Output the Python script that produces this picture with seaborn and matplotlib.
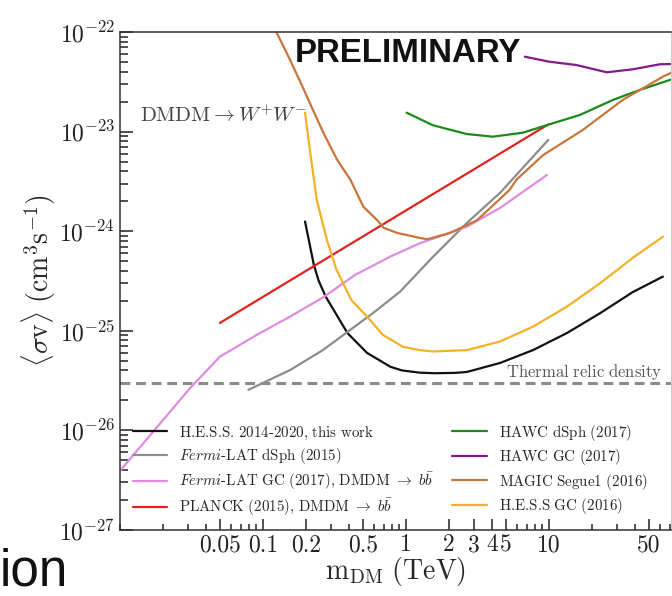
import matplotlib
matplotlib.use("Agg")
import matplotlib.pyplot as plt
import matplotlib.ticker as mticker
import matplotlib.transforms as mtransforms
import pandas as pd
import seaborn as sns

# ---- upper limits on <sigma v> (cm^3 s^-1) vs dark-matter mass (TeV) ----
hess_m = [0.197, 0.227, 0.245, 0.275, 0.39, 0.535, 0.78, 0.94, 1.25, 1.58, 2.2, 2.67, 4.55, 7.75, 13.4, 22.8, 38.7, 62.8]
hess_sv = [1.25e-24, 4.6e-25, 3.2e-25, 2.2e-25, 9.5e-26, 6.0e-26, 4.35e-26, 4.0e-26,
           3.8e-26, 3.75e-26, 3.78e-26, 3.86e-26, 4.75e-26, 6.4e-26, 9.5e-26, 1.5e-25, 2.45e-25, 3.5e-25]

fermi_dsph_m = [0.079, 0.155, 0.263, 0.59, 0.91, 1.55, 2.67, 4.55, 9.9]
fermi_dsph_sv = [2.55e-26, 4.04e-26, 6.41e-26, 1.51e-25, 2.47e-25, 5.55e-25, 1.21e-24, 2.42e-24, 8.24e-24]

fermi_gc_m = [0.0098, 0.031, 0.050, 0.0905, 0.155, 0.263, 0.44, 0.775, 1.25, 2.67, 4.55, 9.7]
fermi_gc_sv = [3.8e-27, 2.67e-26, 5.5e-26, 9.1e-26, 1.39e-25, 2.16e-25, 3.63e-25, 5.55e-25,
               7.56e-25, 1.11e-24, 1.71e-24, 3.67e-24]

planck_m = [0.05, 9.9]
planck_sv = [1.2e-25, 1.18e-23]

hawc_dsph_m = [1.01, 1.54, 2.66, 4.06, 6.58, 9.66, 16.5, 28.1, 43.3, 72.5]
hawc_dsph_sv = [1.55e-23, 1.16e-23, 9.46e-24, 8.89e-24, 9.75e-24, 1.16e-23, 1.47e-23, 2.08e-23, 2.62e-23, 3.35e-23]

hawc_gc_m = [6.8, 10.1, 15.6, 25.4, 38.6, 59.7, 72.5]
hawc_gc_sv = [5.65e-23, 5.03e-23, 4.66e-23, 3.94e-23, 4.22e-23, 4.74e-23, 4.77e-23]

magic_m = [0.122, 0.151, 0.184, 0.208, 0.265, 0.331, 0.41, 0.504, 0.63, 0.70, 0.87, 1.26, 1.41,
           2.04, 3.15, 5.3, 5.94, 9.1, 17.3, 32.9, 62.9, 80.0]
magic_sv = [1.05e-22, 5.65e-23, 3.08e-23, 2.08e-23, 9.7e-24, 5.19e-24, 3.27e-24, 1.76e-24, 1.29e-24,
            1.08e-24, 9.6e-25, 8.55e-25, 8.3e-25, 9.6e-25, 1.29e-24, 2.59e-24, 3.29e-24, 5.8e-24,
            1.04e-23, 2.08e-23, 3.56e-23, 4.2e-23]

hess_gc_m = [0.197, 0.213, 0.238, 0.28, 0.327, 0.415, 0.535, 0.69, 0.955, 1.25, 1.55, 2.67, 4.55, 7.75, 13.4, 22.8, 38.7, 62.8]
hess_gc_sv = [1.55e-23, 6.5e-24, 2.06e-24, 8.2e-25, 4.1e-25, 2.04e-25, 1.39e-25, 9.1e-26, 6.9e-26,
              6.4e-26, 6.2e-26, 6.4e-26, 7.8e-26, 1.1e-25, 1.75e-25, 3.0e-25, 5.4e-25, 8.8e-25]

thermal_sv = 3e-26

SP = r"$\ $"  # word space taken from mathtext (cmr10's own space glyph is too narrow)


def cm_text(s):
    return s.replace(" ", SP)


BB = r"DMDM$\ \rightarrow\ b\bar{b}$"
series_labels = [
    cm_text("H.E.S.S. 2014-2020, this work"),
    r"$\mathit{Fermi}$-LAT" + SP + "dSph" + SP + "(2015)",
    r"$\mathit{Fermi}$-LAT" + SP + "GC" + SP + "(2017)," + SP + BB,
    "PLANCK" + SP + "(2015)," + SP + BB,
    cm_text("HAWC dSph (2017)"),
    cm_text("HAWC GC (2017)"),
    cm_text("MAGIC Segue1 (2016)"),
    cm_text("H.E.S.S GC (2016)"),
]
series_colors = ["#111111", "#8c8c8c", "#de8ce0", "#e0231f",
                 "#1b8a1b", "#84198a", "#c9753a", "#f4b127"]
series_data = [(hess_m, hess_sv), (fermi_dsph_m, fermi_dsph_sv), (fermi_gc_m, fermi_gc_sv),
               (planck_m, planck_sv), (hawc_dsph_m, hawc_dsph_sv), (hawc_gc_m, hawc_gc_sv),
               (magic_m, magic_sv), (hess_gc_m, hess_gc_sv)]

x_major = [0.05, 0.1, 0.2, 0.5, 1, 2, 3, 4, 5, 10, 50]
x_major_labels = ["0.05", "0.1", "0.2", "0.5", "1", "2", "3", "4", "5", "10", "50"]

sns.set_style("white")
plt.rcParams.update({
    "font.family": "cmr10",
    "mathtext.fontset": "cm",
    "axes.unicode_minus": False,
    "axes.formatter.use_mathtext": True,
})

fig = plt.figure(figsize=(6.72, 5.96), dpi=100)
ax = fig.add_axes([120 / 672, 66 / 596, 550.5 / 672, 498 / 596])
ax.set_xscale("log")
ax.set_yscale("log")

for (m, sv), lab, col in zip(series_data, series_labels, series_colors):
    df = pd.DataFrame({"m": m, "sv": sv})
    sns.lineplot(data=df, x="m", y="sv", ax=ax, color=col, lw=1.6, label=lab,
                 sort=False, estimator=None)

ax.axhline(thermal_sv, color="#8a8a8a", lw=2.2, ls=(0, (3.2, 1.9)), zorder=1)

ax.set_xlim(0.01, 71)
ax.set_ylim(1e-27, 1e-22)

ax.xaxis.set_major_locator(mticker.FixedLocator(x_major))
ax.xaxis.set_major_formatter(mticker.FixedFormatter(x_major_labels))
ax.xaxis.set_minor_locator(mticker.LogLocator(base=10, subs=range(1, 10), numticks=20))
ax.xaxis.set_minor_formatter(mticker.NullFormatter())
ax.yaxis.set_major_locator(mticker.LogLocator(base=10, numticks=10))
ax.yaxis.set_minor_locator(mticker.LogLocator(base=10, subs=range(2, 10), numticks=20))
ax.yaxis.set_minor_formatter(mticker.NullFormatter())

ax.tick_params(axis="both", which="both", direction="in", bottom=True, left=True,
               top=False, right=False, colors="#222222", width=1.1)
ax.tick_params(axis="x", which="major", length=8, pad=3, labelsize=17)
ax.tick_params(axis="x", which="minor", length=4.5)
ax.tick_params(axis="y", which="major", length=9, pad=3.5, labelsize=17)
ax.tick_params(axis="y", which="minor", length=6)

for side in ["left", "bottom", "top"]:
    ax.spines[side].set_color("#333333")
    ax.spines[side].set_linewidth(1.1)
ax.spines["right"].set_color("#cccccc")

ax.set_xlabel(r"$\mathrm{m}_{\mathrm{DM}}\ (\mathrm{TeV})$", fontsize=20)
ax.set_ylabel(r"$\langle\sigma\mathrm{v}\rangle\ (\mathrm{cm}^3\mathrm{s}^{-1})$", fontsize=20)
ax.xaxis.set_label_coords(0.5, -0.05)
ax.yaxis.set_label_coords(-0.113, 0.5)

ax.legend(ncol=2, loc="lower left", bbox_to_anchor=(0.0236, 0.024), frameon=False,
          fontsize=10.8, handlelength=2.3, handletextpad=0.8, columnspacing=1.2,
          labelspacing=0.3, borderaxespad=0, borderpad=0)

blend = mtransforms.blended_transform_factory(ax.transAxes, ax.transData)
ax.text(0.986, 3.43e-26, cm_text("Thermal relic density"), transform=blend, ha="right",
        va="baseline", fontsize=12, color="#555555")
ax.text(0.036, 0.819, r"$\mathrm{DMDM} \rightarrow W^{+}W^{-}$", transform=ax.transAxes,
        fontsize=15, color="#444444", va="baseline")
ax.text(0.318, 0.94, "PRELIMINARY", transform=ax.transAxes, family="Liberation Sans",
        weight="bold", fontsize=23.8, va="baseline", color="#111111")

fig.text(0.0, 0.017, "ion", family="Liberation Sans", fontsize=37, va="baseline", color="#111111")

fig.savefig("out.png", dpi=100)
